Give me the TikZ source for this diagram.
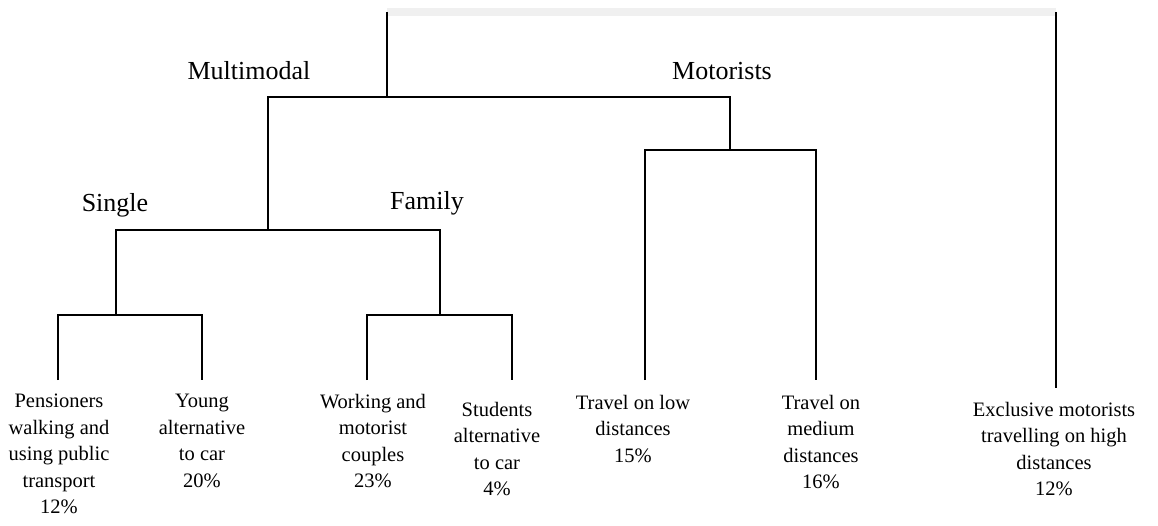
\documentclass[tikz,border=0pt]{standalone}
\usepackage{fontspec}
\setmainfont{Liberation Serif}
\begin{document}
\begin{tikzpicture}[x=1pt,y=-1pt,
  tree/.style={line width=1.8pt, line cap=butt},
  band/.style={line width=8pt, color=black!6, line cap=butt},
  grp/.style={font=\fontsize{26}{30}\selectfont, inner sep=0pt},
  leaf/.style={font=\fontsize{20.5}{26.5}\selectfont, align=center, anchor=north, inner sep=0pt}]
\useasboundingbox (0,0) rectangle (1158,526);
% junctions
\coordinate (T0) at (387,12);
\coordinate (J0) at (387,97);
\coordinate (JM) at (268,230);
\coordinate (JMo) at (730,150);
\coordinate (JS) at (116,315);
\coordinate (JF) at (440,315);
\coordinate (TR) at (1056,12);
% leaf ends
\coordinate (L1) at (58,380);
\coordinate (L2) at (202,380);
\coordinate (L3) at (367,380);
\coordinate (L4) at (512,380);
\coordinate (L5) at (645,380);
\coordinate (L6) at (816,380);
\coordinate (L7) at (1056,388);
% top band
\draw[band] (T0) -- (TR);
% tree
\draw[tree] (T0) -- (J0);
\draw[tree] (JM) |- (J0) -| (JMo);
\draw[tree] (JS) |- (JM) -| (JF);
\draw[tree] (L1) |- (JS) -| (L2);
\draw[tree] (L3) |- (JF) -| (L4);
\draw[tree] (L5) |- (JMo) -| (L6);
\draw[tree] (TR) -- (L7);
% group labels
\node[grp] (multimodal) at (249,71) {Multimodal};
\node[grp] (motorists) at (722,71) {Motorists};
\node[grp] (single) at (115,205) {Single};
\node[grp] (family) at (427,203) {Family};
% leaves
\node[leaf] (pens) at (59,394) {Pensioners\\walking and\\using public\\transport\\12\%};
\node[leaf] (young) at (202,394) {Young\\alternative\\to car\\20\%};
\node[leaf] (work) at (373,394) {Working and\\motorist\\couples\\23\%};
\node[leaf] (stud) at (497,402) {Students\\alternative\\to car\\4\%};
\node[leaf] (low) at (633,395) {Travel on low\\distances\\15\%};
\node[leaf] (med) at (821,395) {Travel on\\medium\\distances\\16\%};
\node[leaf] (excl) at (1054,402) {Exclusive motorists\\travelling on high\\distances\\12\%};
\end{tikzpicture}
\end{document}
